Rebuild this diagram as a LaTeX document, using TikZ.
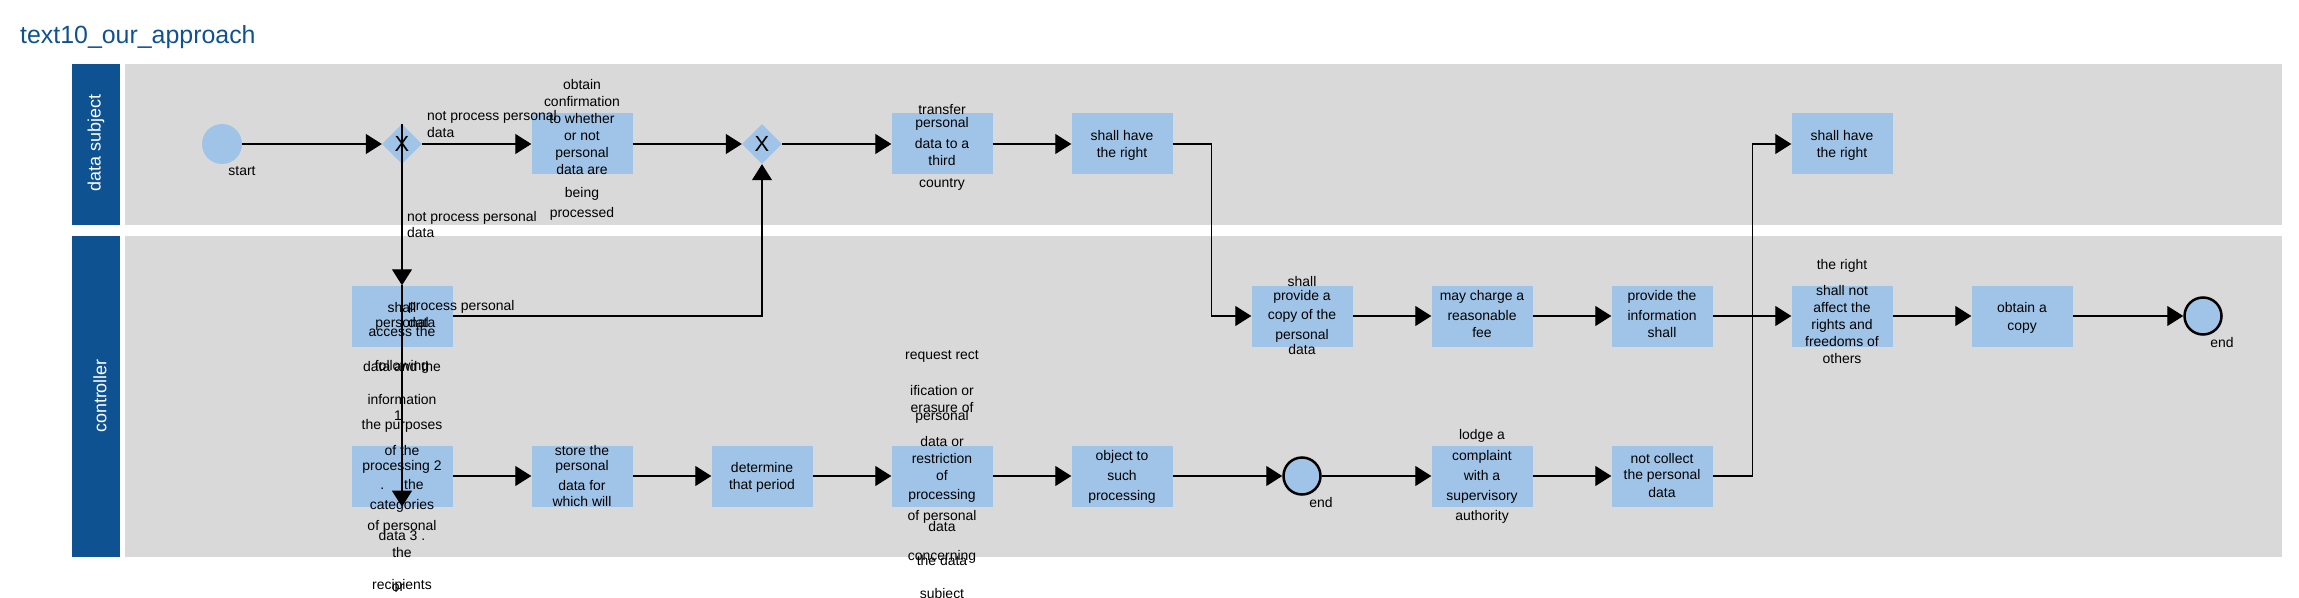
\documentclass[tikz,border=0pt]{standalone}
\usepackage{fontspec}
\setmainfont{Liberation Sans}
\usetikzlibrary{arrows.meta,shapes.geometric}
\definecolor{laneblue}{RGB}{14,82,146}
\definecolor{lanegrey}{RGB}{217,217,217}
\definecolor{taskblue}{RGB}{160,196,232}
\tikzset{
  lanehead/.style={fill=laneblue, draw=none},
  lanebody/.style={fill=lanegrey, draw=none},
  lanename/.style={rotate=90, text=white, font=\fontsize{18}{20}\selectfont, inner sep=0pt},
  task/.style={fill=taskblue, minimum width=101bp, minimum height=61bp, inner sep=0pt},
  gate/.style={diamond, fill=taskblue, minimum width=40bp, minimum height=40bp, inner sep=0pt, font=\fontsize{22}{22}\selectfont},
  startev/.style={circle, fill=taskblue, minimum size=40bp, inner sep=0pt},
  endev/.style={circle, fill=taskblue, draw=black, line width=2.5bp, minimum size=37bp, inner sep=0pt},
  txt/.style={font=\fontsize{14}{17}\selectfont, inner sep=0pt, text height=10.5bp, text depth=3bp},
  flow/.style={-{Triangle[length=16bp,width=20bp]}, line width=1.2bp},
}
\begin{document}
\begin{tikzpicture}[x=1bp, y=-1bp]
\useasboundingbox (0,0) rectangle (2299,598);
\node[anchor=base west, inner sep=0pt, text=laneblue, font=\fontsize{25}{30}\selectfont] (title) at (20,44) {text10\_our\_approach};

% lanes
\fill[lanehead] (72,64) rectangle (120,225);
\fill[lanebody] (125,64) rectangle (2282,225);
\fill[lanehead] (72,236) rectangle (120,557);
\fill[lanebody] (125,236) rectangle (2282,557);
\node[lanename] (dslabel) at (96,143) {data subject};
\node[lanename] (ctlabel) at (100,396) {controller};

% data subject
\node[startev] (start) at (222,144) {};
\node[gate] (gw1) at (402,144) {X};
\node[task] (obt) at (582,144) {};
\node[gate] (gw2) at (762,144) {X};
\node[task] (trans) at (942,144) {};
\node[task] (right1) at (1122,144) {};
\node[task] (right2) at (1842,144) {};

% controller
\node[task] (access) at (402,316) {};
\node[task] (purp) at (402,476) {};
\node[task] (store) at (582,476) {};
\node[task] (period) at (762,476) {};
\node[task] (req) at (942,476) {};
\node[task] (obj) at (1122,476) {};
\node[endev] (end1) at (1302,476) {};
\node[task] (lodge) at (1482,476) {};
\node[task] (ncol) at (1662,476) {};
\node[task] (copy) at (1302,316) {};
\node[task] (fee) at (1482,316) {};
\node[task] (info) at (1662,316) {};
\node[task] (affect) at (1842,316) {};
\node[task] (obtcopy) at (2022,316) {};
\node[endev] (end2) at (2203,316) {};

% flows
\draw[flow] (start) -- (gw1);
\draw[flow] (gw1) -- (obt);
\draw[flow] (obt) -- (gw2);
\draw[flow] (gw2) -- (trans);
\draw[flow] (trans) -- (right1);
\draw[flow] (right1.east) -- ++(39,0) |- (copy.west);
\draw[flow] (gw1.north) -- (access.north);
\draw[flow] (access.north) -- (purp.south);
\draw[flow] (access.east) -| (gw2.south);
\draw[flow] (purp) -- (store);
\draw[flow] (store) -- (period);
\draw[flow] (period) -- (req);
\draw[flow] (req) -- (obj);
\draw[flow] (obj) -- (end1);
\draw[flow] (end1) -- (lodge);
\draw[flow] (lodge) -- (ncol);
\draw[flow] (ncol.east) -- ++(40,0) |- (right2.west);
\draw[flow] (copy) -- (fee);
\draw[flow] (fee) -- (info);
\draw[flow] (info) -- (affect);
\draw[flow] (affect) -- (obtcopy);
\draw[flow] (obtcopy) -- (end2);

% event and flow labels
\node[txt] (startlbl) at (242,172) {start};
\node[txt] (end1lbl) at (1321,504) {end};
\node[txt] (end2lbl) at (2222,344) {end};
\node[txt, anchor=west] (np1a) at (427,117) {not process personal};
\node[txt, anchor=west] (np1b) at (427,134) {data};
\node[txt, anchor=west] (np2a) at (407,218) {not process personal};
\node[txt, anchor=west] (np2b) at (407,234) {data};
\node[txt, anchor=west] (pp1a) at (408,307) {process personal};
\node[txt, anchor=west] (pp1b) at (408,324) {data};

% task texts
\foreach \y/\t in {86/obtain, 103/confirmation, 120/to whether, 137/or not, 154/personal, 171/data are, 194/being, 214/processed}
  \node[txt] (obt-\y) at (582,\y) {\t};
\foreach \y/\t in {111/transfer, 124/personal, 145/data to a, 162/third, 184/country}
  \node[txt] (trans-\y) at (942,\y) {\t};
\foreach \y/\t in {137/shall have, 154/the right}
  \node[txt] (right1-\y) at (1122,\y) {\t};
\foreach \y/\t in {137/shall have, 154/the right}
  \node[txt] (right2-\y) at (1842,\y) {\t};
\foreach \y/\t in {309/shall, 324/personal, 333/access the, 368/data and the, 367/following, 401/information}
  \node[txt] (access-\y) at (402,\y) {\t};
\foreach \y/\t in {426/the purposes, 452/of the, 467/processing 2, 486/{.\hspace{20bp}the}, 506/categories, 527/of personal, 537/data 3 ., 554/the, 586/recipients}
  \node[txt] (purp-\y) at (402,\y) {\t};
\node[txt] (purp-one) at (398,417) {1};
\node[txt] (purp-or) at (398,588) {or};
\foreach \y/\t in {452/store the, 467/personal, 487/data for, 503/which will}
  \node[txt] (store-\y) at (582,\y) {\t};
\foreach \y/\t in {469/determine, 486/that period}
  \node[txt] (period-\y) at (762,\y) {\t};
\foreach \y/\t in {356/request rect, 392/ification or, 409/erasure of, 417/personal, 443/data or, 460/restriction, 477/of, 496/processing, 517/of personal, 528/data, 557/concerning, 562/the data, 595/subject}
  \node[txt] (req-\y) at (942,\y) {\t};
\foreach \y/\t in {457/object to, 477/such, 497/processing}
  \node[txt] (obj-\y) at (1122,\y) {\t};
\foreach \y/\t in {436/lodge a, 457/complaint, 477/with a, 497/supervisory, 517/authority}
  \node[txt] (lodge-\y) at (1482,\y) {\t};
\foreach \y/\t in {460/not collect, 476/the personal, 494/data}
  \node[txt] (ncol-\y) at (1662,\y) {\t};
\foreach \y/\t in {283/shall, 297/provide a, 316/copy of the, 336/personal, 351/data}
  \node[txt] (copy-\y) at (1302,\y) {\t};
\foreach \y/\t in {297/may charge a, 317/reasonable, 334/fee}
  \node[txt] (fee-\y) at (1482,\y) {\t};
\foreach \y/\t in {297/provide the, 317/information, 334/shall}
  \node[txt] (info-\y) at (1662,\y) {\t};
\foreach \y/\t in {266/the right, 292/shall not, 309/affect the, 326/rights and, 343/freedoms of, 360/others}
  \node[txt] (affect-\y) at (1842,\y) {\t};
\foreach \y/\t in {309/obtain a, 327/copy}
  \node[txt] (obtcopy-\y) at (2022,\y) {\t};
\end{tikzpicture}
\end{document}
